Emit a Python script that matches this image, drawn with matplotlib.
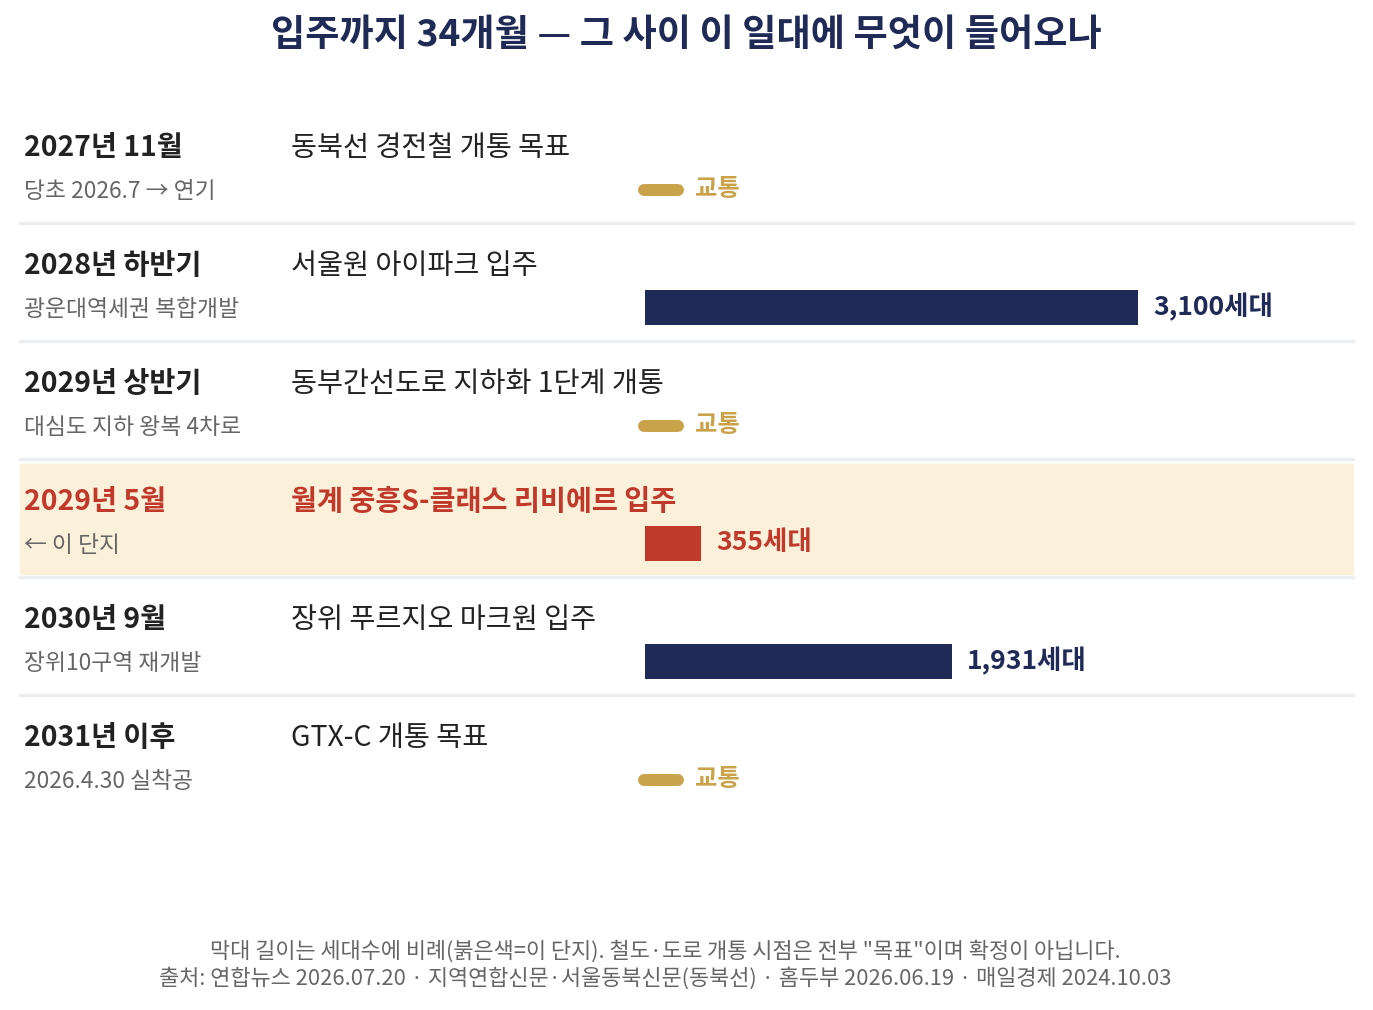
import matplotlib
matplotlib.use("Agg")
import matplotlib.pyplot as plt
from matplotlib.patches import Rectangle

plt.rcParams['font.family'] = ['Noto Sans CJK KR', 'DejaVu Sans']

# data
periods = ["2027년 11월", "2028년 하반기", "2029년 상반기", "2029년 5월", "2030년 9월", "2031년 이후"]
notes = ["당초 2026.7 → 연기", "광운대역세권 복합개발", "대심도 지하 왕복 4차로",
         "← 이 단지", "장위10구역 재개발", "2026.4.30 실착공"]
events = ["동북선 경전철 개통 목표", "서울원 아이파크 입주", "동부간선도로 지하화 1단계 개통",
          "월계 중흥S-클래스 리비에르 입주", "장위 푸르지오 마크원 입주", "GTX-C 개통 목표"]
households = [None, 3100, None, 355, 1931, None]  # None = 교통
highlight = 3

title = "입주까지 34개월 — 그 사이 이 일대에 무엇이 들어오나"
footer = ["막대 길이는 세대수에 비례(붉은색=이 단지). 철도·도로 개통 시점은 전부 \"목표\"이며 확정이 아닙니다.",
          "출처: 연합뉴스 2026.07.20 · 지역연합신문·서울동북신문(동북선) · 홈두부 2026.06.19 · 매일경제 2024.10.03"]

NAVY = "#1f2a56"
RED = "#c0392b"
GOLD = "#c9a24a"
CREAM = "#fbf0d9"
DARK = "#222222"
GRAY = "#666666"
SEP = "#eceef2"

W, H = 1373, 1010
fig = plt.figure(figsize=(W / 100, H / 100), dpi=100)
ax = fig.add_axes([0, 0, 1, 1])
ax.set_xlim(0, W)
ax.set_ylim(H, 0)
ax.axis("off")

# bar axes: 645px -> 1138px corresponds to 0 -> 3100 households
bar_left, bar_w = 645, 493
bx = fig.add_axes([bar_left / W, 0, bar_w / W, 1])
bx.set_xlim(0, max(v for v in households if v))
bx.set_ylim(H, 0)
bx.axis("off")
bx.patch.set_alpha(0)

ax.text(W / 2, 35, title, ha="center", va="center", fontsize=26.8, fontweight="bold", color=NAVY)

top, pitch = 148, 118
for i in range(len(periods)):
    y = top + pitch * i
    hi = i == highlight
    if hi:
        ax.add_patch(Rectangle((20, y - 38), 1333, 110, color=CREAM, zorder=0))
    if i < len(periods) - 1:
        ax.plot([20, 1353], [y + 75, y + 75], color=SEP, lw=2.5, zorder=1)
    ax.text(24, y, periods[i], ha="left", va="center", fontsize=20.4, fontweight="bold",
            color=RED if hi else DARK)
    ax.text(24, y + 43, notes[i], ha="left", va="center", fontsize=16.4, color=GRAY)
    ax.text(291, y, events[i], ha="left", va="center", fontsize=20.4,
            fontweight="bold" if hi else "normal", color=RED if hi else DARK)
    v = households[i]
    if v is None:
        ax.plot([644, 678], [y + 42, y + 42], color=GOLD, lw=8.6, solid_capstyle="round")
        ax.text(695, y + 41, "교통", ha="left", va="center", fontsize=17.5, fontweight="bold", color=GOLD)
    else:
        c = RED if hi else NAVY
        bx.barh(y + 41, v, height=35, color=c, left=0)
        bx.annotate(f"{v:,}세대", (v, y + 41), xytext=(15, 0), textcoords="offset pixels",
                    ha="left", va="center", fontsize=19.1, fontweight="bold", color=c)

ax.text(665, 952, footer[0], ha="center", va="center", fontsize=15.8, color=GRAY)
ax.text(665, 978, footer[1], ha="center", va="center", fontsize=15.8, color=GRAY)

fig.savefig("out.png", dpi=100, facecolor="white")
